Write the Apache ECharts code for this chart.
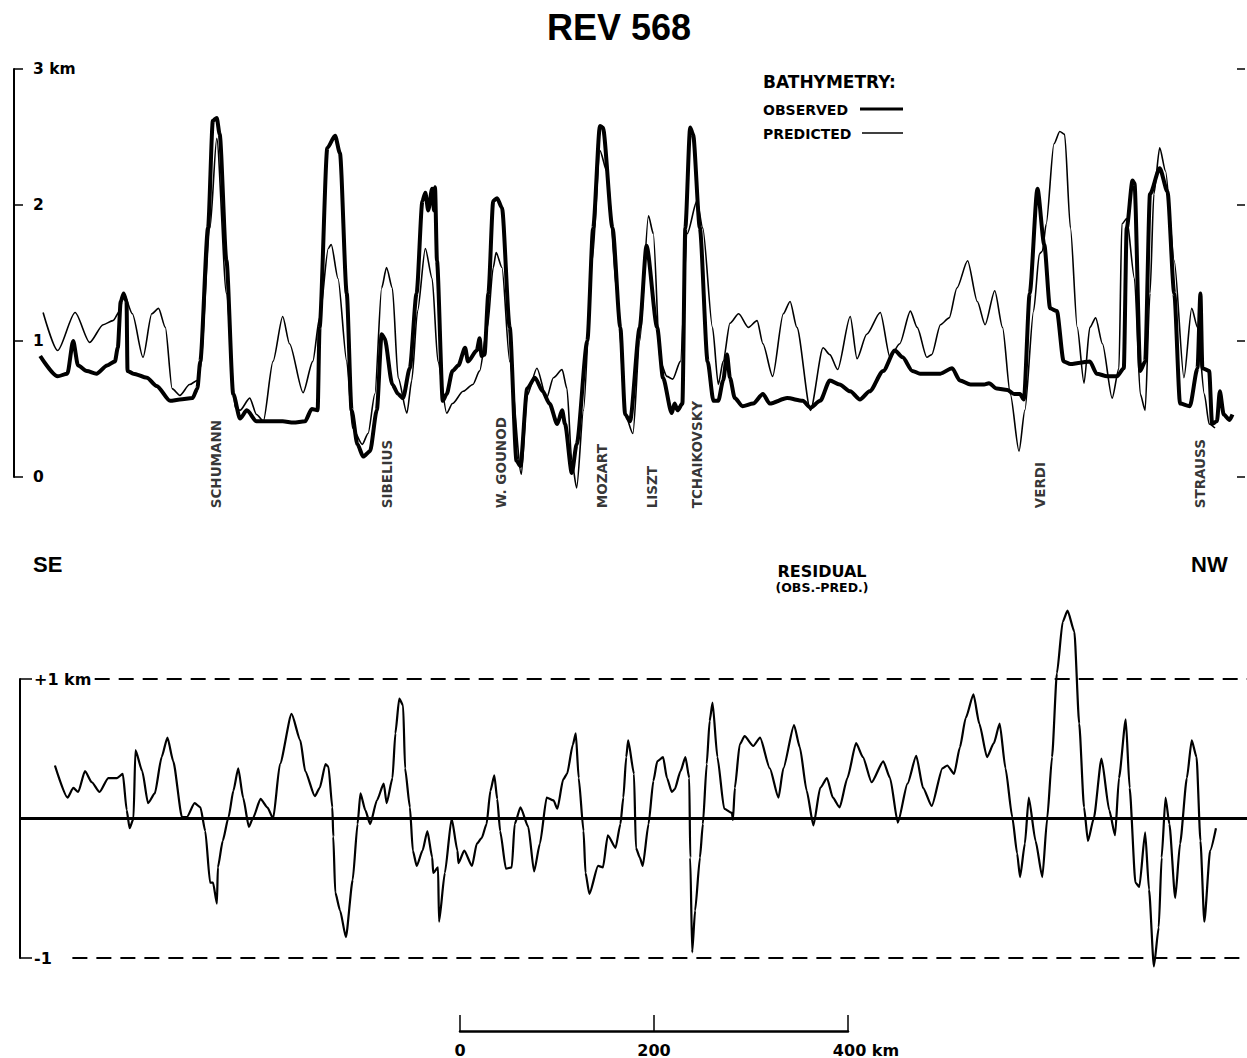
<!DOCTYPE html>
<html><head><meta charset="utf-8">
<script src="https://cdn.jsdelivr.net/npm/echarts/dist/echarts.min.js"></script>
<style>html,body{margin:0;padding:0;background:#fff}#c{width:1247px;height:1058px}</style>
</head><body><div id="c"></div>
<script>
// distance along track (km) and depth above reference (km)
const obsX = [
 23,41,51,57,62,71,81,92,100,103,
 106,109,112,113,119,133,143,157,167,180,
 185,188,196,201,205,208,215,222,229,236,
 246,273,284,296,303,309,311,319,327,332,
 339,344,350,356,363,370,375,378,386,392,
 397,404,411,417,420,423,427,429,430,432,
 438,442,448,454,461,464,473,476,478,481,
 485,490,494,499,507,514,518,525,533,541,
 548,556,561,564,571,576,587,593,600,603,
 613,621,626,631,641,648,659,665,674,677,
 680,685,688,693,696,703,711,717,722,727,
 731,734,739,747,758,768,775,793,809,817,
 827,837,847,858,868,878,892,904,912,922,
 930,951,963,971,982,996,1001,1009,1020,1027,
 1033,1037,1043,1051,1058,1064,1071,1078,1085,1095,
 1105,1112,1123,1133,1140,1143,1149,1151,1157,1162,
 1167,1177,1185,1192,1198,1208,1216,1219,1221,1228,
 1231,1236,1239,1243,1249,1252];
const obsY = [
 0.89,0.74,0.76,1.0,0.82,0.78,0.76,0.82,0.85,0.95,
 1.29,1.35,1.29,0.78,0.76,0.73,0.67,0.56,0.57,0.58,
 0.65,0.85,1.83,2.62,2.64,2.52,1.59,0.61,0.43,0.49,
 0.41,0.41,0.40,0.41,0.50,0.49,1.1,2.42,2.51,2.38,
 1.35,0.49,0.24,0.15,0.19,0.49,1.05,1.02,0.68,0.61,
 0.58,0.80,1.35,2.03,2.09,1.96,2.12,1.96,2.13,1.59,
 0.56,0.61,0.78,0.82,0.95,0.85,0.93,1.02,0.89,0.90,
 1.35,2.03,2.05,1.98,1.10,0.12,0.08,0.65,0.73,0.63,
 0.54,0.39,0.49,0.39,0.03,0.24,1.0,1.83,2.58,2.57,
 1.83,1.1,0.46,0.41,1.1,1.7,1.1,0.73,0.47,0.54,
 0.49,0.54,1.83,2.57,2.52,1.83,0.85,0.56,0.56,0.71,
 0.90,0.73,0.58,0.52,0.54,0.61,0.54,0.58,0.56,0.51,
 0.56,0.71,0.68,0.63,0.57,0.63,0.78,0.93,0.88,0.78,
 0.76,0.76,0.80,0.71,0.68,0.68,0.69,0.65,0.64,0.61,
 0.61,0.57,1.35,2.12,1.71,1.24,1.22,0.85,0.83,0.84,
 0.85,0.76,0.74,0.74,0.80,1.83,2.18,2.16,0.78,0.85,
 2.08,2.27,2.10,1.35,0.54,0.52,0.80,1.35,0.80,0.78,
 0.39,0.41,0.63,0.46,0.42,0.46];
const predX = [
 26,41,59,74,88,98,105,109,118,129,
 138,145,152,159,167,177,185,188,198,205,
 215,224,229,239,246,253,263,273,280,294,
 304,311,320,323,330,339,345,355,361,368,
 375,380,386,392,401,406,412,420,427,433,
 442,448,459,469,476,484,490,493,499,507,
 519,525,535,545,552,561,566,571,576,583,
 592,600,607,618,626,634,641,650,655,662,
 669,675,683,690,700,706,716,722,727,734,
 743,753,762,768,778,789,796,803,817,830,
 837,845,858,865,875,889,899,909,920,927,
 937,942,951,960,968,979,989,997,1007,1015,
 1023,1032,1038,1047,1053,1056,1060,1068,1074,1079,
 1085,1092,1099,1105,1111,1118,1128,1135,1138,1143,
 1151,1157,1162,1167,1171,1177,1183,1192,1202,1210,
 1216,1223,1228,1234];
const predY = [
 1.21,0.93,1.21,0.99,1.12,1.15,1.22,1.35,1.20,0.88,
 1.20,1.24,1.10,0.65,0.60,0.68,0.71,0.80,1.83,2.49,
 1.35,0.51,0.49,0.58,0.46,0.41,0.85,1.18,0.98,0.62,
 0.85,1.17,1.68,1.71,1.46,0.85,0.36,0.24,0.32,0.61,
 1.39,1.54,1.39,0.73,0.47,0.71,1.22,1.68,1.46,0.85,
 0.47,0.54,0.63,0.68,0.78,1.10,1.54,1.65,1.54,0.85,
 0.02,0.60,0.80,0.58,0.73,0.79,0.65,0.12,-0.08,0.49,
 1.59,2.40,2.25,1.35,0.46,0.32,1.0,1.92,1.79,0.85,
 0.74,0.72,0.85,1.79,2.03,1.83,1.10,0.68,0.85,1.13,
 1.20,1.10,1.15,0.98,0.74,1.20,1.29,1.10,0.49,0.95,
 0.90,0.79,1.18,0.87,1.05,1.21,0.88,0.98,1.22,1.10,
 0.88,0.90,1.12,1.17,1.39,1.59,1.29,1.12,1.37,1.10,
 0.61,0.19,0.49,1.22,1.64,1.66,1.86,2.45,2.54,2.52,
 1.83,1.10,0.69,1.10,1.17,0.98,0.58,0.80,1.86,1.90,
 1.46,0.61,0.49,1.35,2.08,2.42,2.25,1.59,0.73,1.24,
 1.10,0.61,0.39,0.36];
const resX = [
 38,51,57,62,69,76,84,93,102,108,
 112,115,119,121,128,134,141,148,154,160,
 169,174,182,188,193,198,201,205,206,211,
 217,222,227,232,238,242,250,257,263,270,
 282,291,296,306,311,317,320,324,325,327,
 332,338,345,350,353,358,363,370,377,380,
 386,389,393,397,399,404,407,411,417,422,
 427,428,433,434,440,447,453,454,460,468,
 473,478,483,487,491,494,497,503,509,512,
 518,526,532,538,545,552,556,562,566,572,
 575,578,583,585,589,598,603,608,616,621,
 624,627,629,635,637,641,644,650,655,659,
 665,669,674,677,683,688,692,693,695,698,
 703,706,710,713,716,721,728,736,737,739,
 744,749,758,765,775,784,789,800,806,813,
 820,827,834,840,847,855,864,871,880,892,
 899,907,917,926,933,942,953,958,965,971,
 977,985,991,999,1006,1012,1018,1025,1030,1033,
 1038,1042,1049,1056,1061,1066,1071,1077,1082,1089,
 1094,1099,1103,1109,1117,1125,1131,1135,1142,1146,
 1152,1156,1162,1166,1171,1176,1179,1183,1187,1193,
 1198,1205,1210,1215,1219,1223,1229,1235];
const resY = [
 0.38,0.15,0.22,0.19,0.34,0.26,0.19,0.29,0.29,0.32,
 0.06,-0.07,0.00,0.49,0.34,0.11,0.18,0.44,0.58,0.41,
 0.01,0.01,0.11,0.08,-0.09,-0.46,-0.46,-0.61,-0.35,-0.16,
 0.01,0.20,0.36,0.15,-0.06,0.00,0.14,0.08,0.00,0.39,
 0.75,0.56,0.34,0.16,0.22,0.39,0.37,0.08,-0.13,-0.53,
 -0.66,-0.85,-0.44,-0.04,0.18,0.06,-0.04,0.13,0.25,0.11,
 0.29,0.61,0.86,0.81,0.36,0.08,-0.23,-0.34,-0.23,-0.09,
 -0.28,-0.39,-0.35,-0.74,-0.39,0.00,-0.23,-0.32,-0.23,-0.34,
 -0.18,-0.14,-0.04,0.20,0.31,0.14,-0.09,-0.36,-0.35,-0.04,
 0.08,-0.06,-0.38,-0.18,0.15,0.13,0.07,0.28,0.32,0.53,
 0.61,0.29,-0.09,-0.39,-0.54,-0.34,-0.35,-0.12,-0.21,-0.04,
 0.15,0.44,0.56,0.32,-0.21,-0.28,-0.34,-0.04,0.27,0.41,
 0.44,0.29,0.19,0.21,0.34,0.44,0.29,-0.28,-0.96,-0.66,
 -0.28,-0.04,0.39,0.70,0.83,0.44,0.07,0.04,-0.01,0.22,
 0.53,0.59,0.52,0.58,0.36,0.15,0.36,0.67,0.51,0.20,
 -0.05,0.22,0.29,0.15,0.08,0.29,0.54,0.44,0.26,0.41,
 0.29,-0.03,0.25,0.45,0.22,0.09,0.36,0.38,0.32,0.51,
 0.72,0.89,0.68,0.44,0.54,0.68,0.36,0.01,-0.25,-0.42,
 -0.18,0.15,-0.16,-0.42,0.00,0.44,1.04,1.41,1.49,1.34,
 0.68,0.08,-0.16,0.00,0.43,0.06,-0.12,0.29,0.71,0.22,
 -0.46,-0.49,-0.10,-0.51,-1.06,-0.78,-0.28,0.15,-0.04,-0.57,
 -0.18,0.29,0.56,0.44,-0.16,-0.74,-0.23,-0.07];
const seamountNames = ['SCHUMANN','SIBELIUS','W. GOUNOD','MOZART','LISZT','TCHAIKOVSKY','VERDI','STRAUSS'];
const seamountX = [204,380,498,602,654,700,1054,1219];
const depthTicks = [0,1,2,3];
const residualTicks = [-1,0,1];
const scaleTicks = [0,200,400];

const zip = (xs, ys) => xs.map((x, i) => [x, ys[i]]);
const DV = 'DejaVu Sans', LS = 'Liberation Sans';
const black = '#000';

const chart = echarts.init(document.getElementById('c'), null, {renderer: 'svg'});
const option = {
  animation: false,
  backgroundColor: '#fff',
  grid: [
    {left: 14, top: 69, width: 1233, height: 408},
    {left: 20, top: 679, width: 1227, height: 279},
    {left: 460, top: 1000, width: 388, height: 31}
  ],
  xAxis: [
    {gridIndex: 0, type: 'value', min: -4, max: 1267, show: false},
    {gridIndex: 1, type: 'value', min: 2, max: 1267, show: false},
    {gridIndex: 2, type: 'value', min: scaleTicks[0], max: scaleTicks[2], interval: 200, position: 'bottom',
     axisLine: {onZero: false, lineStyle: {color: black, width: 2.5}},
     axisTick: {inside: true, length: 16, lineStyle: {color: black, width: 1.5}},
     splitLine: {show: false},
     axisLabel: {margin: 11, color: black, fontFamily: DV, fontWeight: 'bold', fontSize: 16,
       formatter: v => v === 400 ? '{k|400 km}' : String(v),
       rich: {k: {padding: [0, 0, 0, 36], color: black, fontFamily: DV, fontWeight: 'bold', fontSize: 16}}}}
  ],
  yAxis: [
    {gridIndex: 0, type: 'value', min: depthTicks[0], max: depthTicks[3], interval: 1,
     axisLine: {show: true, onZero: false, lineStyle: {color: black, width: 2}},
     axisTick: {show: true, inside: true, length: 9, lineStyle: {color: black, width: 1.5}},
     splitLine: {show: false},
     axisLabel: {inside: true, margin: 19, color: black, fontFamily: DV, fontWeight: 'bold', fontSize: 15.5,
       formatter: v => v === 3 ? '3 km' : String(v)}},
    {gridIndex: 0, type: 'value', position: 'right', offset: -10, min: 0, max: 3, interval: 1,
     axisLine: {show: false, onZero: false},
     axisTick: {show: true, length: 8, lineStyle: {color: black, width: 1.5}},
     axisLabel: {show: false}, splitLine: {show: false}},
    {gridIndex: 1, type: 'value', min: residualTicks[0], max: residualTicks[2], interval: 1,
     axisLine: {show: true, onZero: false, lineStyle: {color: black, width: 2}},
     axisTick: {show: true, inside: true, length: 12, lineStyle: {color: black, width: 1.5}},
     splitLine: {show: false},
     axisLabel: {inside: true, margin: 14, color: black, fontFamily: DV, fontWeight: 'bold', fontSize: 16,
       formatter: v => v === 1 ? '+1 km' : (v === -1 ? '-1' : '')}},
    {gridIndex: 2, type: 'value', min: 0, max: 1, show: false}
  ],
  series: [
    {type: 'line', name: 'PREDICTED', xAxisIndex: 0, yAxisIndex: 0, data: zip(predX, predY),
     showSymbol: false, smooth: 0.25, smoothMonotone: 'x', clip: false, silent: true, z: 2,
     lineStyle: {color: black, width: 1.6}},
    {type: 'line', name: 'OBSERVED', xAxisIndex: 0, yAxisIndex: 0, data: zip(obsX, obsY),
     showSymbol: false, smooth: 0.25, smoothMonotone: 'x', clip: false, silent: true, z: 3,
     lineStyle: {color: black, width: 4}},
    {type: 'line', name: 'RESIDUAL', xAxisIndex: 1, yAxisIndex: 2, data: zip(resX, resY),
     showSymbol: false, smooth: 0.2, smoothMonotone: 'x', clip: false, silent: true, z: 3,
     lineStyle: {color: black, width: 2.2}},
    {type: 'line', xAxisIndex: 1, yAxisIndex: 2, data: [], silent: true,
     markLine: {silent: true, symbol: 'none', animation: false, label: {show: false},
       data: [
         [{coord: [2, 0], lineStyle: {type: 'solid', width: 3, color: black}}, {coord: [1267, 0]}],
         [{coord: [79, 1], lineStyle: {type: [15, 9], width: 2, color: black}}, {coord: [1267, 1]}],
         [{coord: [56, -1], lineStyle: {type: [15, 9], width: 2, color: black}}, {coord: [1267, -1]}]
       ]}},
    {type: 'scatter', xAxisIndex: 0, yAxisIndex: 0, clip: false, silent: true, symbolSize: 0,
     data: seamountX.map((x, i) => ({value: [x, -0.23], name: seamountNames[i]})),
     label: {show: true, formatter: '{b}', rotate: 90, position: [0, 0], align: 'left', verticalAlign: 'middle',
       color: black, fontFamily: DV, fontWeight: 'bold', fontSize: 13.5}}
  ],
  graphic: [
    {type: 'text', x: 619, y: 27, style: {text: 'REV 568', fill: black, font: 'bold 36px "Liberation Sans"', align: 'center', verticalAlign: 'middle'}},
    {type: 'text', x: 763, y: 82, style: {text: 'BATHYMETRY:', fill: black, font: 'bold 17px "DejaVu Sans"', align: 'left', verticalAlign: 'middle'}},
    {type: 'text', x: 763, y: 110, style: {text: 'OBSERVED', fill: black, font: 'bold 14px "DejaVu Sans"', align: 'left', verticalAlign: 'middle'}},
    {type: 'text', x: 763, y: 134, style: {text: 'PREDICTED', fill: black, font: 'bold 14px "DejaVu Sans"', align: 'left', verticalAlign: 'middle'}},
    {type: 'line', shape: {x1: 860, y1: 109, x2: 903, y2: 109}, style: {stroke: black, lineWidth: 3}},
    {type: 'line', shape: {x1: 862, y1: 133, x2: 903, y2: 133}, style: {stroke: black, lineWidth: 1.5}},
    {type: 'text', x: 33, y: 564, style: {text: 'SE', fill: black, font: 'bold 22px "Liberation Sans"', align: 'left', verticalAlign: 'middle'}},
    {type: 'text', x: 1191, y: 564, style: {text: 'NW', fill: black, font: 'bold 22px "Liberation Sans"', align: 'left', verticalAlign: 'middle'}},
    {type: 'text', x: 822, y: 571, style: {text: 'RESIDUAL', fill: black, font: 'bold 16px "DejaVu Sans"', align: 'center', verticalAlign: 'middle'}},
    {type: 'text', x: 822, y: 587, style: {text: '(OBS.-PRED.)', fill: black, font: 'bold 12.5px "DejaVu Sans"', align: 'center', verticalAlign: 'middle'}}
  ]
};
chart.setOption(option);
</script>
</body></html>
